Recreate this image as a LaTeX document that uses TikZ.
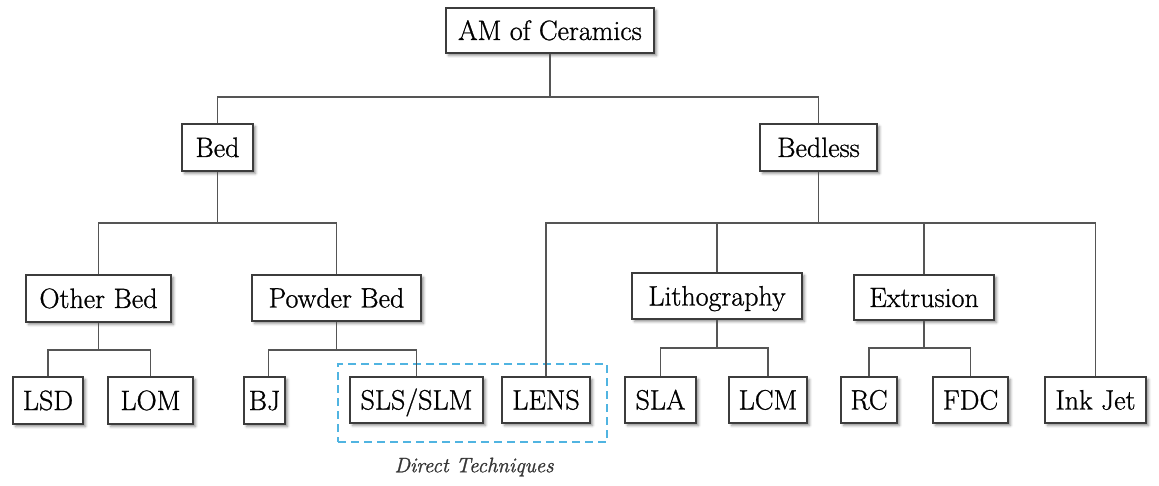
\documentclass[tikz,border=0pt]{standalone}
\usepackage{fontspec}
\usetikzlibrary{shadows.blur}
\newfontfamily\boxfont[RawFeature={embolden=0.9}]{Latin Modern Roman}
\newfontfamily\labelfont[RawFeature={embolden=1.2}]{Latin Modern Roman}
\definecolor{edgegray}{RGB}{85,85,85}
\definecolor{framegray}{RGB}{60,60,60}
\definecolor{dashblue}{RGB}{80,180,225}
\definecolor{labelgray}{RGB}{55,55,55}
\begin{document}
\begin{tikzpicture}[x=1pt,y=-1pt,
  box/.style={draw=framegray, line width=1.3pt, fill=white, inner sep=0pt,
    text height=19pt, text depth=0pt, align=center,
    font=\boxfont\fontsize{28}{32}\selectfont,
    blur shadow={shadow xshift=2.5pt, shadow yshift=-2.5pt,
      shadow blur radius=2.5pt, shadow opacity=45}},
  conn/.style={draw=edgegray, line width=1.2pt},
  bw/.style 2 args={minimum width=#1pt, minimum height=#2pt}]
\useasboundingbox (0,0) rectangle (1159,486);

% group frame for the direct techniques
\node[draw=dashblue, line width=1.6pt, dash pattern=on 8pt off 5pt,
  minimum width=269pt, minimum height=78pt, inner sep=0pt] (direct) at (472.5,403) {};
\node[font=\labelfont\itshape\fontsize{21}{25}\selectfont, text=labelgray] (directlbl) at (474,467) {Direct Techniques};

% tree nodes
\node[box, bw={208}{45}] (am) at (550,30.5) {AM of Ceramics};
\node[box, bw={71}{47}] (bed) at (217.5,147.5) {Bed};
\node[box, bw={117}{47}] (bedless) at (818.5,147.5) {Bedless};
\node[box, bw={145}{47}] (other) at (98.5,298.5) {Other Bed};
\node[box, bw={169}{46}] (powder) at (336.5,298) {Powder Bed};
\node[box, bw={170}{46}] (litho) at (717,296) {Lithography};
\node[box, bw={140}{45}] (extr) at (924,297.5) {Extrusion};
\node[box, bw={70}{47}] (lsd) at (48,400.5) {LSD};
\node[box, bw={85}{47}] (lom) at (150.5,400.5) {LOM};
\node[box, bw={41}{47}] (bj) at (264.5,400.5) {BJ};
\node[box, bw={133}{46}] (sls) at (416.5,400) {SLS/SLM};
\node[box, bw={88}{46}] (lens) at (546,400) {LENS};
\node[box, bw={71}{46}] (sla) at (660.5,400) {SLA};
\node[box, bw={78}{46}] (lcm) at (768,400) {LCM};
\node[box, bw={56}{46}] (rc) at (869,400) {RC};
\node[box, bw={75}{46}] (fdc) at (970.5,400) {FDC};
\node[box, bw={101}{46}] (ink) at (1095.5,400) {Ink Jet};

% branch junctions
\coordinate (j0) at (550,97);
\coordinate (j1) at (217.5,223);
\coordinate (j2) at (818.5,223);
\coordinate (j3) at (98.5,350);
\coordinate (j4) at (336.5,350);
\coordinate (j5) at (717,348);
\coordinate (j6) at (924,348);

% connectors
\draw[conn] (am.south) -- (j0);
\draw[conn] (bed.north) |- (j0) -| (bedless.north);
\draw[conn] (bed.south) -- (j1);
\draw[conn] (other.north) |- (j1) -| (powder.north);
\draw[conn] (bedless.south) -- (j2);
\draw[conn] (lens.north) |- (j2) -| (ink.north);
\draw[conn] (litho.north) -- (litho.north |- j2);
\draw[conn] (extr.north) -- (extr.north |- j2);
\draw[conn] (other.south) -- (j3);
\draw[conn] (lsd.north) |- (j3) -| (lom.north);
\draw[conn] (powder.south) -- (j4);
\draw[conn] ([xshift=4pt]bj.north) |- (j4) -| (sls.north);
\draw[conn] (litho.south) -- (j5);
\draw[conn] (sla.north) |- (j5) -| (lcm.north);
\draw[conn] (extr.south) -- (j6);
\draw[conn] (rc.north) |- (j6) -| (fdc.north);
\end{tikzpicture}
\end{document}
